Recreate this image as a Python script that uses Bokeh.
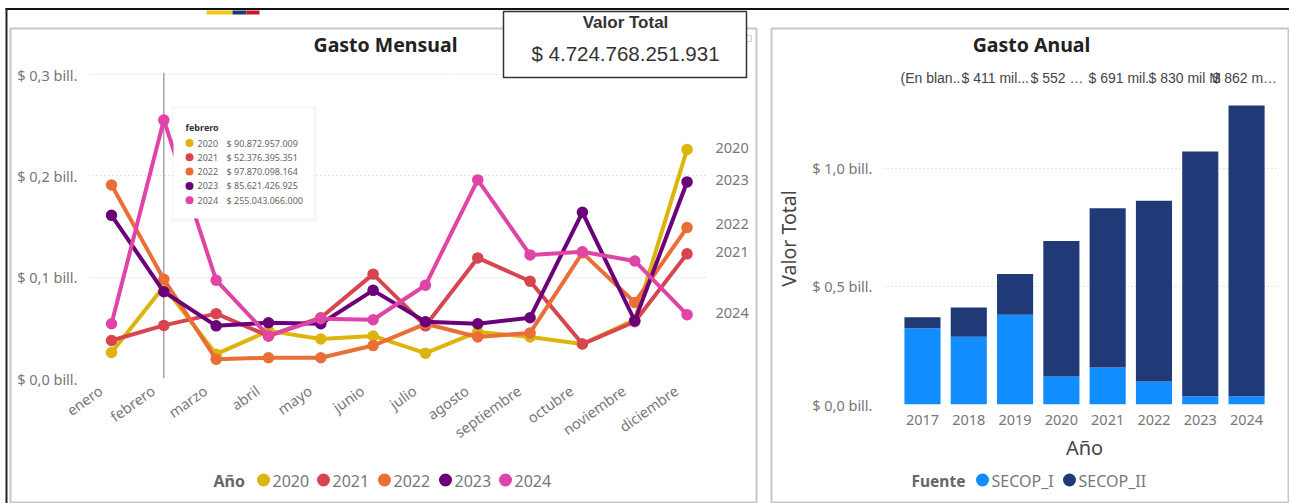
from bokeh.plotting import figure
from bokeh.models import (BoxAnnotation, Label, Range1d, FixedTicker, Span, ColumnDataSource)
from bokeh.embed import file_html
from bokeh.resources import INLINE

# ---------- data ----------
MONTHS = ["enero", "febrero", "marzo", "abril", "mayo", "junio", "julio", "agosto",
          "septiembre", "octubre", "noviembre", "diciembre"]
Y2020 = [0.0257, 0.0909, 0.024, 0.047, 0.039, 0.042, 0.025, 0.046, 0.041, 0.034, 0.058, 0.226]
Y2021 = [0.0375, 0.0524, 0.064, 0.042, 0.060, 0.103, 0.052, 0.119, 0.096, 0.034, 0.056, 0.123]
Y2022 = [0.191, 0.0979, 0.019, 0.0205, 0.0205, 0.0325, 0.054, 0.041, 0.045, 0.124, 0.075, 0.149]
Y2023 = [0.161, 0.0856, 0.052, 0.055, 0.054, 0.087, 0.056, 0.054, 0.060, 0.164, 0.057, 0.194]
Y2024 = [0.054, 0.255, 0.097, 0.042, 0.059, 0.058, 0.092, 0.196, 0.122, 0.125, 0.116, 0.063]
LINE_YEARS = ["2020", "2021", "2022", "2023", "2024"]
LINE_SERIES = [Y2020, Y2021, Y2022, Y2023, Y2024]
LINE_COLORS = ["#DDB40A", "#D64550", "#E96E37", "#6B007B", "#E044A7"]
TOOLTIP_VALUES = ["$ 90.872.957.009", "$ 52.376.395.351", "$ 97.870.098.164",
                  "$ 85.621.426.925", "$ 255.043.066.000"]

BAR_YEARS = [2017, 2018, 2019, 2020, 2021, 2022, 2023, 2024]
SECOP_I = [0.323, 0.287, 0.38, 0.118, 0.156, 0.097, 0.035, 0.035]
SECOP_II = [0.046, 0.123, 0.172, 0.573, 0.674, 0.765, 1.035, 1.230]
BAR_COLORS = ["#118DFF", "#203A78"]
BAR_LABELS = [("(En blan..", 900), ("$ 411 mil...", 961), ("$ 552 …", 1030),
              ("$ 691 mil.", 1088), ("$ 830 mil M", 1148), ("$ 862 m…", 1212)]

FONT = "Noto Sans"
ARIAL = "Liberation Sans"
GREY = "#777777"

# transparent full-page figure on top, whose frame holds cards, titles and legends
top = figure(width=1289, height=503, output_backend="svg", toolbar_location=None,
             x_axis_location=None, y_axis_location=None,
             x_range=Range1d(0, 1289), y_range=Range1d(503, 0),
             min_border=0, background_fill_color=None, border_fill_color=None,
             styles={"position": "absolute", "left": "0px", "top": "0px"})
top.grid.visible = False
top.outline_line_color = None


def label(x, y, text, size=14, color=GREY, font=FONT, style="normal", align="left", angle=0):
    top.add_layout(Label(x=x, y=y, x_units="canvas", y_units="canvas", text=text,
                         text_font=font, text_font_size=f"{size}px", text_color=color,
                         text_font_style=style, text_align=align, text_baseline="middle",
                         angle=angle))


def box(l, r, t, b, fill=None, line=None, lw=1, alpha=1.0, radius=0):
    top.add_layout(BoxAnnotation(left=l, right=r, top=t, bottom=b,
                                 left_units="canvas", right_units="canvas",
                                 top_units="canvas", bottom_units="canvas",
                                 fill_color=fill, fill_alpha=alpha if fill else 0,
                                 line_color=line, line_width=lw, line_alpha=1 if line else 0,
                                 border_radius=radius, editable=False))


def style_axes(p):
    for ax in (p.xaxis[0], p.yaxis[0]):
        ax.axis_line_color = None
        ax.major_tick_line_color = None
        ax.minor_tick_line_color = None
        ax.major_label_text_font = FONT
        ax.major_label_text_color = GREY
        ax.major_label_text_font_size = "14.5px"
    p.xgrid.visible = False
    p.ygrid.grid_line_color = "#C9C9C9"
    p.ygrid.grid_line_dash = "1 3"
    p.ygrid.grid_line_width = 1
    p.outline_line_color = None


# ---------- monthly chart ----------
p1 = figure(width=763, height=503, output_backend="svg", toolbar_location=None,
            x_range=Range1d(-0.44, 11.41), y_range=Range1d(0, 0.302),
            min_border_left=88, min_border_right=55, min_border_top=72, min_border_bottom=125,
            styles={"position": "absolute", "left": "0px", "top": "0px"})
style_axes(p1)
LABEL_TICKS = [round(i - 0.21, 2) for i in range(12)]
p1.xaxis[0].ticker = FixedTicker(ticks=LABEL_TICKS)
p1.xaxis[0].major_label_overrides = dict(zip(LABEL_TICKS, MONTHS))
p1.xaxis[0].major_label_orientation = 0.62
p1.xaxis[0].major_label_standoff = 4
p1.yaxis[0].ticker = FixedTicker(ticks=[0, 0.1, 0.2, 0.3])
p1.yaxis[0].major_label_overrides = {0: "$ 0,0 bill.", 0.1: "$ 0,1 bill.",
                                     0.2: "$ 0,2 bill.", 0.3: "$ 0,3 bill."}
p1.yaxis[0].major_label_standoff = 5

p1.add_layout(Span(location=1, dimension="height", line_color="#777777", line_width=1, level="underlay"))
xs = list(range(12))
for vals, col in zip(LINE_SERIES, LINE_COLORS):
    p1.line(xs, vals, line_color=col, line_width=4, line_join="round")
    p1.scatter(xs, vals, size=11.5, fill_color=col, line_color=col, line_width=0)

# ---------- annual chart ----------
p2 = figure(width=526, height=503, output_backend="svg", toolbar_location=None,
            x_range=Range1d(2016.158, 2024.69), y_range=Range1d(0, 1.328),
            min_border_left=120, min_border_right=11, min_border_top=90, min_border_bottom=99,
            styles={"position": "absolute", "left": "763px", "top": "0px"})
style_axes(p2)
p2.xaxis[0].ticker = FixedTicker(ticks=BAR_YEARS)
p2.xaxis[0].major_label_standoff = 4
p2.yaxis[0].ticker = FixedTicker(ticks=[0, 0.5, 1.0])
p2.yaxis[0].major_label_overrides = {0: "$ 0,0 bill.", 0.5: "$ 0,5 bill.", 1: "$ 1,0 bill."}
p2.yaxis[0].major_label_standoff = 5

src = ColumnDataSource(dict(year=BAR_YEARS, SECOP_I=SECOP_I, SECOP_II=SECOP_II))
p2.vbar_stack(["SECOP_I", "SECOP_II"], x="year", width=0.78, source=src,
              color=BAR_COLORS, line_width=0)

# ---------- page furniture on the top figure ----------
box(10, 756, 28, 502, line="#C8C8C8", lw=2)
box(771, 1288, 28, 502, line="#C8C8C8", lw=2)
box(5, 1289, 7.5, 9.5, fill="#111111")
box(5, 7, 7.5, 503, fill="#222222")
box(206, 232, 10, 14, fill="#F5C518")
box(232, 246, 10, 14, fill="#1F3A7A")
box(246, 259, 10, 14, fill="#D0102A")
box(746, 751, 35, 41, line="#D0D0D0")

for yr, vals, nudge in zip(LINE_YEARS, LINE_SERIES, [2, 2, 3.5, 2, 2]):
    label(715, 378 - vals[-1] * 1013 - nudge, yr, 14.5)

label(385, 44, "Gasto Mensual", 19.5, "#222222", style="bold", align="center")

box(171, 316, 106, 221, fill="#000000", alpha=0.03)
box(173, 313, 108, 218, fill="#FFFFFF")
label(185, 127, "febrero", 9, "#333333", style="bold")
for i, (yr, val, col) in enumerate(zip(LINE_YEARS, TOOLTIP_VALUES, LINE_COLORS)):
    y = 142.5 + i * 14.3
    box(185, 193, y - 4, y + 4, fill=col, radius=4)
    label(197, y, yr, 9, "#666666")
    label(226, y, val, 9, "#666666")

box(503, 746, 11, 77, fill="#FFFFFF", line="#333333", lw=1.5)
label(625, 21.5, "Valor Total", 17, "#333333", font=ARIAL, style="bold", align="center")
label(625, 53, "$ 4.724.768.251.931", 20.5, "#333333", font=ARIAL, align="center")

label(213, 480, "Año", 16, "#666666", style="bold")
for x, yr, col in zip([263, 323, 384, 445, 505], LINE_YEARS, LINE_COLORS):
    box(x - 6.5, x + 6.5, 473, 486, fill=col, radius=7)
    label(x + 9, 480, yr, 16, "#777777")

label(1031, 44, "Gasto Anual", 19.5, "#222222", style="bold", align="center")
for txt, x in BAR_LABELS:
    label(x, 77, txt, 14, "#444444", font=ARIAL)
label(788, 238, "Valor Total", 19.5, "#444444", align="center", angle=1.5708)
label(1084, 447, "Año", 20, "#444444", align="center")

label(911, 480, "Fuente", 15.5, "#666666", style="bold")
for x, name, col in zip([982, 1069], ["SECOP_I", "SECOP_II"], BAR_COLORS):
    box(x - 6.5, x + 6.5, 473, 486, fill=col, radius=7)
    label(x + 9, 480, name, 16, "#777777")

open("out.html", "w").write(file_html([p1, p2, top], INLINE))
